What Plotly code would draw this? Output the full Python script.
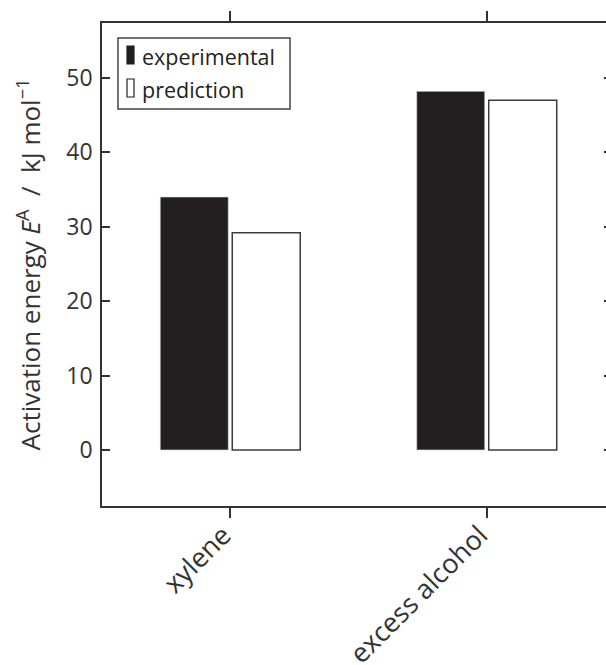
import plotly.graph_objects as go

# Activation energies (kJ/mol) per reaction medium
categories = ["xylene", "excess alcohol"]
experimental = [34.0, 48.2]
prediction = [29.2, 47.0]
y_ticks = [0, 10, 20, 30, 40, 50]
series_names = ["experimental", "prediction"]

AXIS = "#333333"
FONT = "Open Sans, DejaVu Sans, sans-serif"
BAR_FILL = ["#231f20", "white"]
BAR_EDGE = ["#d8d8d8", "#3c3c3c"]
BAR_EDGE_W = [0.6, 1.5]

fig = go.Figure()
for name, vals, fill, edge, ew in zip(series_names, [experimental, prediction],
                                      BAR_FILL, BAR_EDGE, BAR_EDGE_W):
    fig.add_trace(go.Bar(name=name, x=categories, y=vals,
                         marker=dict(color=fill, line=dict(color=edge, width=ew))))
# right-hand ticks only (no frame line on that side)
fig.add_trace(go.Scatter(x=categories, y=[None, None], yaxis="y2",
                         showlegend=False, hoverinfo="skip"))

y_range = [-7.53, 57.39]

fig.update_layout(
    width=606, height=665,
    margin=dict(l=102, r=0, t=23, b=159, autoexpand=False),
    paper_bgcolor="white", plot_bgcolor="white",
    barmode="group", bargap=0.4386, bargroupgap=0.0556,
    showlegend=False,
    font=dict(family=FONT, size=22, color=AXIS),
    xaxis=dict(
        range=[-0.5, 1.465], automargin=False,
        showline=True, linecolor=AXIS, linewidth=1.5, mirror="ticks",
        ticks="outside", ticklen=10, tickwidth=1.5, tickcolor=AXIS,
        tickangle=-45, tickfont=dict(size=27, color=AXIS),
        ticklabelshift=-7, ticklabelstandoff=-9,
        showgrid=False, zeroline=False,
    ),
    yaxis=dict(
        range=y_range, tickvals=y_ticks, automargin=False,
        showline=True, linecolor=AXIS, linewidth=1.5,
        ticks="inside", ticklen=8, tickwidth=1.5, tickcolor=AXIS,
        tickfont=dict(size=23, color=AXIS), ticklabelstandoff=3,
        showgrid=False, zeroline=False,
        title=dict(
            text="Activation energy <i>E</i><sup>A</sup>  /  kJ mol<sup>\u22121</sup>",
            font=dict(size=26, color=AXIS), standoff=18,
        ),
    ),
    yaxis2=dict(
        range=y_range, tickvals=y_ticks, overlaying="y", side="right",
        showline=False, ticks="inside", ticklen=2, tickwidth=1.5, tickcolor=AXIS,
        showticklabels=False, showgrid=False, zeroline=False, automargin=False,
    ),
)

# ---- legend: framed box, narrow bar swatches and labels (pixel layout) ----
L, T, W, H = 102, 23, 504, 483          # plot area in pixels


def px(x):
    return (x - L) / W


def py(y):
    return (T + H - y) / H


fig.add_shape(type="rect", xref="paper", yref="paper",
              x0=px(118), x1=px(290), y0=py(109), y1=py(38),
              line=dict(color="#444444", width=1.5), fillcolor="white", layer="above")
for i, (name, fill) in enumerate(zip(series_names, BAR_FILL)):
    top = 46 + 33 * i
    fig.add_shape(type="rect", xref="paper", yref="paper",
                  x0=px(127), x1=px(134), y0=py(top + 18), y1=py(top),
                  line=dict(color="#231f20", width=1.2), fillcolor=fill, layer="above")
    fig.add_annotation(xref="paper", yref="paper", x=px(140), y=py(top + 10),
                       xanchor="left", yanchor="middle", showarrow=False,
                       text=name, font=dict(family=FONT, size=21.5, color="#222222"))

fig.write_html("out.html")
